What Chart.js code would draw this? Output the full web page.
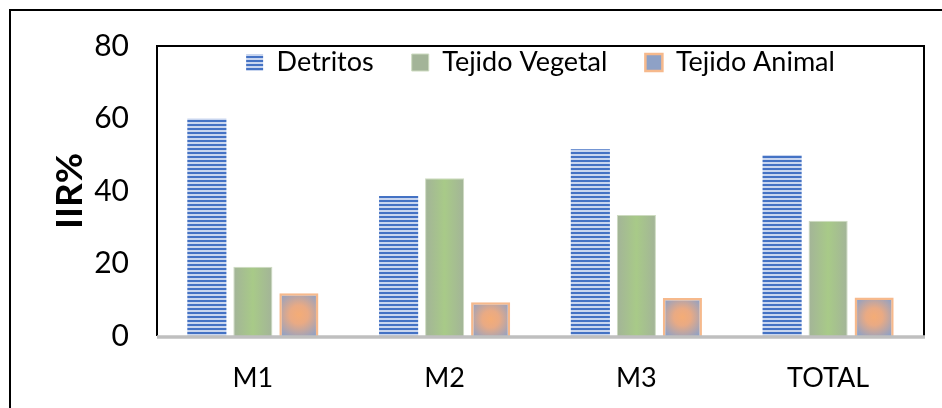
<!DOCTYPE html>
<html>
<head>
<meta charset="utf-8">
<script src="https://cdn.jsdelivr.net/npm/chart.js@4.4.1/dist/chart.umd.min.js"></script>
<style>
    body { margin: 0; background: #fff; }
    canvas { display: block; }
</style>
</head>
<body>
<canvas id="iirChart" width="942" height="408"></canvas>
<script>
var categories = ['M1', 'M2', 'M3', 'TOTAL'];
var detritos = [60, 38.6, 51.5, 49.9];
var tejidoVegetal = [19.1, 43.5, 33.4, 31.8];
var tejidoAnimal = [11.8, 9.3, 10.5, 10.6];
var yTicks = [0, 20, 40, 60, 80];

var FONT = 'Lato, "Open Sans", sans-serif';
var CAT_PCT = 0.72;
var BAR_PCT = 0.85;
var LEGEND_PAD = 38;

// horizontal stripes for Detritos
function stripePattern() {
    var c = document.createElement('canvas');
    c.width = 4;
    c.height = 4;
    var g = c.getContext('2d');
    g.fillStyle = '#c9d6ef';
    g.fillRect(0, 0, 4, 4);
    g.fillStyle = '#4472c4';
    g.fillRect(0, 0, 4, 2);
    return g.createPattern(c, 'repeat');
}

// bar box from the chart scales, used only to place the gradients
function barBox(context, slotIndex) {
    var chart = context.chart;
    var xs = chart.scales.x, ys = chart.scales.y;
    var cat = xs.getPixelForValue(1) - xs.getPixelForValue(0);
    var slot = cat * CAT_PCT / 3;
    var cx = xs.getPixelForValue(context.dataIndex) + (slotIndex - 1) * slot;
    var w = slot * BAR_PCT;
    return {
        left: cx - w / 2, right: cx + w / 2, cx: cx,
        top: ys.getPixelForValue(context.raw), base: ys.getPixelForValue(0)
    };
}

function vegetalFill(context) {
    if (context.type !== 'data' || !context.chart.chartArea) return '#a9c98a';
    var b = barBox(context, 1);
    var g = context.chart.ctx.createLinearGradient(b.left, 0, b.right, 0);
    g.addColorStop(0, '#a3b498');
    g.addColorStop(0.5, '#a8ca88');
    g.addColorStop(1, '#a3b498');
    return g;
}

function animalFill(context) {
    if (context.type !== 'data' || !context.chart.chartArea) return '#97a6c3';
    var b = barBox(context, 2);
    var cy = (b.top + b.base) / 2;
    var r = Math.max(b.right - b.left, b.base - b.top) * 0.62;
    var g = context.chart.ctx.createRadialGradient(b.cx, cy, 0, b.cx, cy, r);
    g.addColorStop(0, '#f4ac76');
    g.addColorStop(0.35, '#e9aa84');
    g.addColorStop(1, '#8ea1c6');
    return g;
}

var framePlugin = {
    id: 'frame',
    beforeDraw: function (chart) {
        var ctx = chart.ctx;
        ctx.save();
        ctx.strokeStyle = '#000';
        ctx.lineWidth = 2;
        ctx.beginPath();
        ctx.moveTo(10, chart.height);
        ctx.lineTo(10, 10);
        ctx.lineTo(chart.width, 10);
        ctx.stroke();
        ctx.restore();
    },
    afterLayout: function (chart) {
        // move the legend down into the top of the plot area
        var lg = chart.legend;
        lg.top = 63 - LEGEND_PAD - 14;
        lg.height = 110;
        lg.bottom = lg.top + lg.height;
    },
    afterDraw: function (chart) {
        var a = chart.chartArea;
        var ctx = chart.ctx;
        ctx.save();
        ctx.strokeStyle = '#000';
        ctx.lineWidth = 2;
        ctx.beginPath();
        ctx.moveTo(a.left, a.bottom);
        ctx.lineTo(a.left, a.top);
        ctx.lineTo(a.right, a.top);
        ctx.lineTo(a.right, a.bottom);
        ctx.stroke();
        ctx.strokeStyle = '#bfbfbf';
        ctx.lineWidth = 3.5;
        ctx.beginPath();
        ctx.moveTo(a.left, a.bottom + 1);
        ctx.lineTo(a.right + 1, a.bottom + 1);
        ctx.stroke();
        ctx.restore();
    }
};

var ctx = document.getElementById('iirChart').getContext('2d');
var iirChart = new Chart(ctx, {
    type: 'bar',
    data: {
        labels: categories,
        datasets: [{
            label: 'Detritos',
            data: detritos,
            backgroundColor: stripePattern(),
            borderWidth: 0
        }, {
            label: 'Tejido Vegetal',
            data: tejidoVegetal,
            backgroundColor: vegetalFill,
            borderColor: '#cddbc0',
            borderWidth: 1
        }, {
            label: 'Tejido Animal',
            data: tejidoAnimal,
            backgroundColor: animalFill,
            borderColor: '#f6b98c',
            borderWidth: 2.5
        }]
    },
    options: {
        responsive: false,
        animation: false,
        categoryPercentage: CAT_PCT,
        barPercentage: BAR_PCT,
        layout: { padding: { top: 0, right: 18, bottom: 0, left: 0 } },
        plugins: {
            legend: {
                position: 'top',
                align: 'center',
                fullSize: false,
                maxHeight: 42,
                labels: {
                    font: { family: FONT, size: 27 },
                    color: '#000',
                    boxWidth: 17,
                    boxHeight: 17,
                    padding: LEGEND_PAD
                }
            },
            tooltip: { enabled: false }
        },
        scales: {
            x: {
                afterFit: function (axis) {
                    axis.height = 72;
                },
                grid: { display: false, drawTicks: false },
                border: { display: false },
                ticks: {
                    font: { family: FONT, size: 27 },
                    color: '#000',
                    padding: 26
                }
            },
            y: {
                min: 0,
                max: 80,
                afterBuildTicks: function (axis) {
                    axis.ticks = yTicks.map(function (v) { return { value: v }; });
                },
                afterFit: function (axis) {
                    axis.width = 157;
                },
                grid: { display: false, drawTicks: false },
                border: { display: false },
                ticks: {
                    font: { family: FONT, size: 30 },
                    color: '#000',
                    padding: 28
                },
                title: {
                    display: true,
                    text: 'IIR%',
                    font: { family: FONT, size: 37, weight: 'bold' },
                    color: '#000',
                    padding: { top: 48, bottom: 0 }
                }
            }
        }
    },
    plugins: [framePlugin]
});
</script>
</body>
</html>
